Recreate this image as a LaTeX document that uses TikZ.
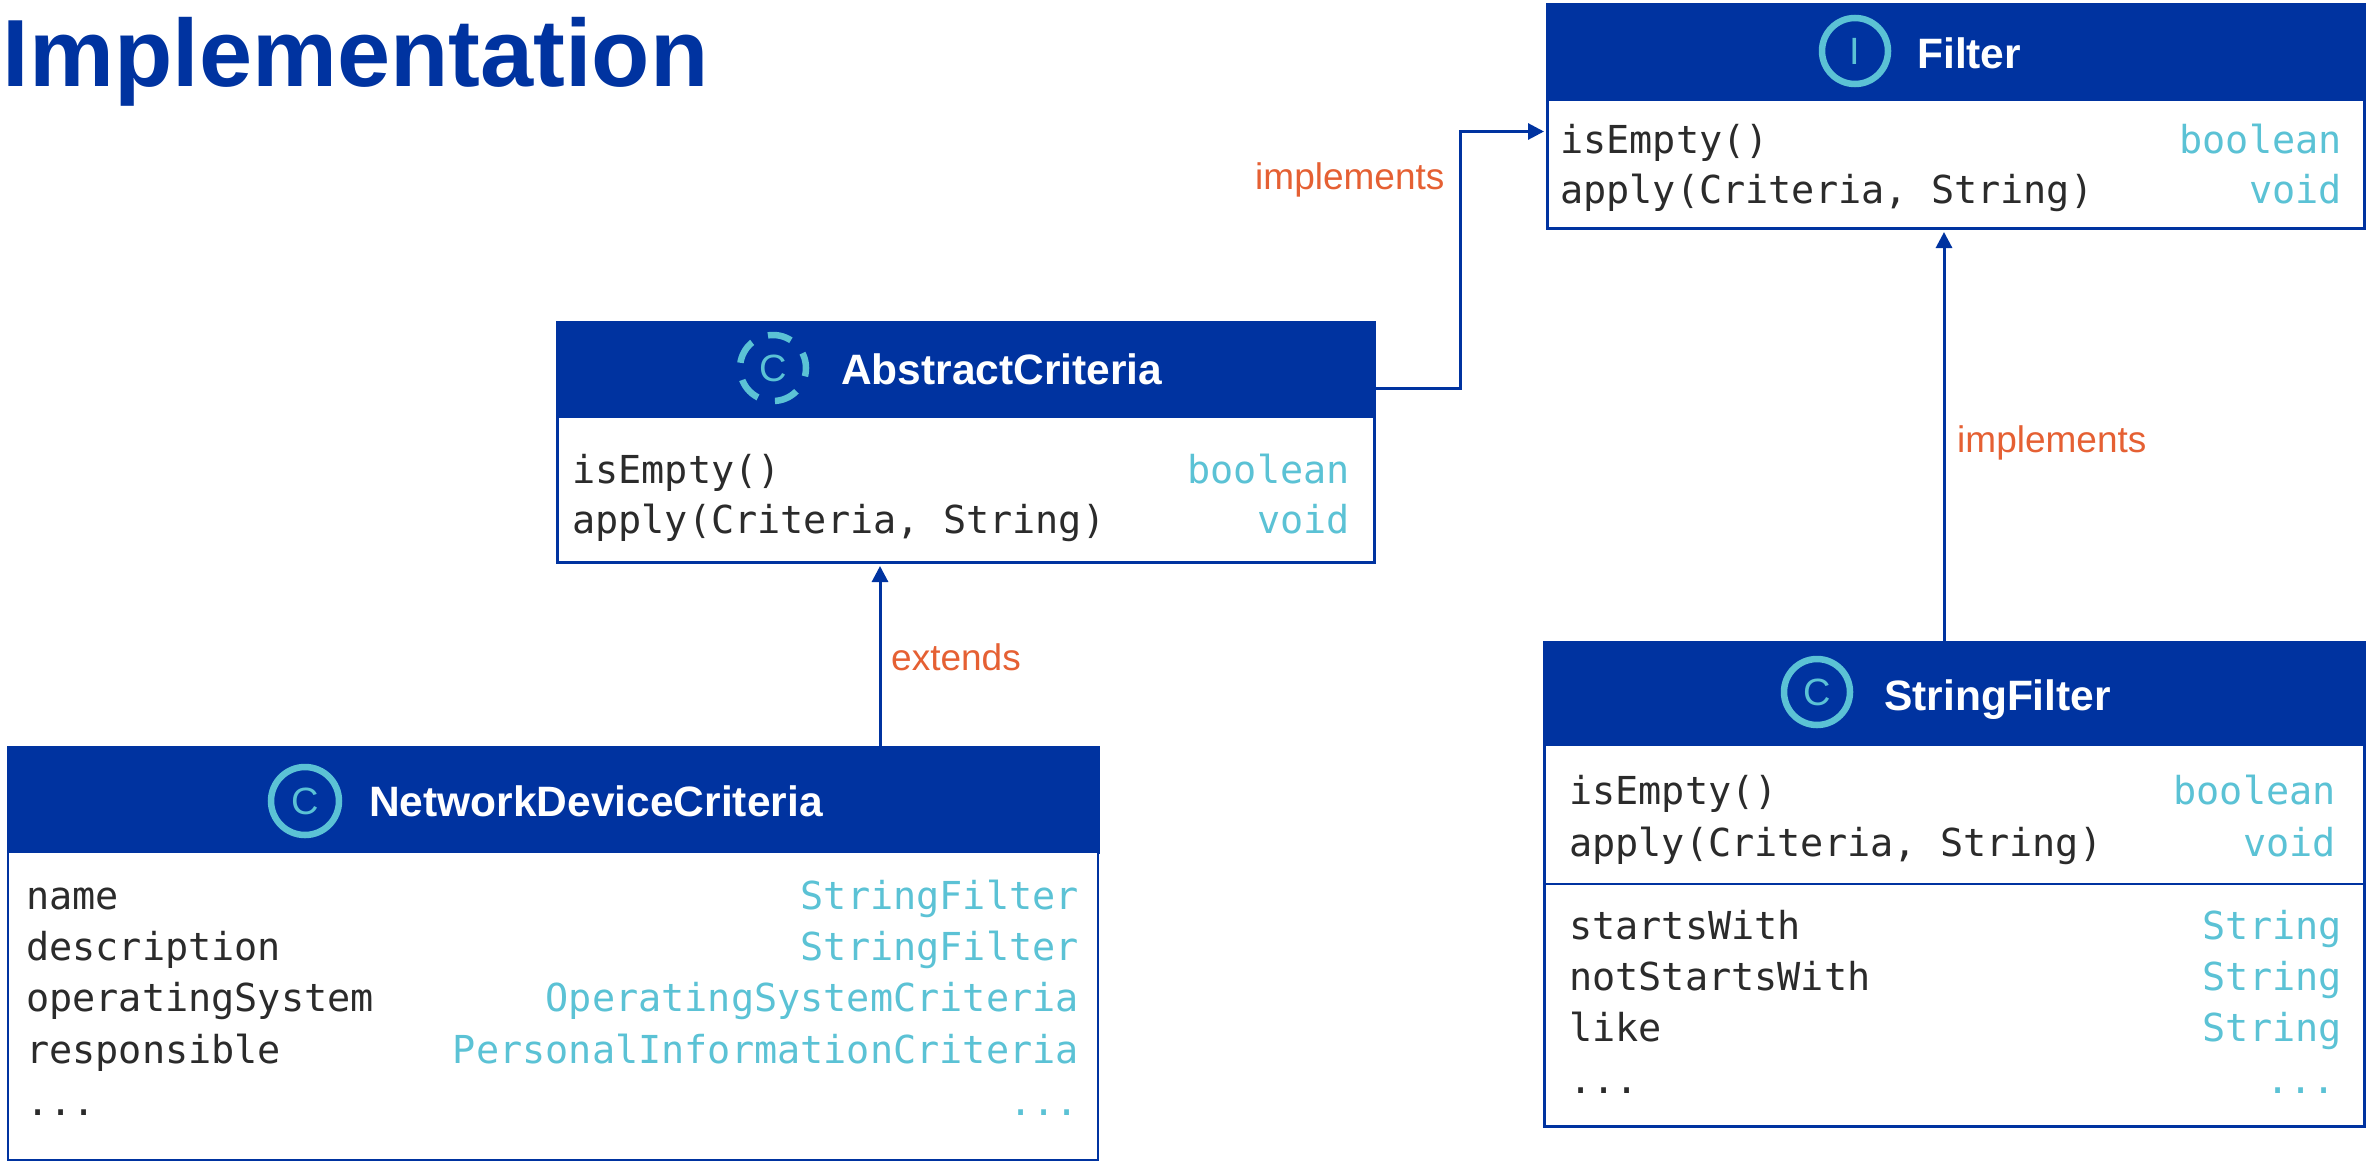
\documentclass[tikz,border=0pt]{standalone}
\usepackage{fontspec}
\setmainfont{Liberation Sans}
\newfontfamily\codefont{DejaVu Sans Mono}
\usetikzlibrary{arrows.meta,positioning}
\definecolor{navy}{HTML}{0033A0}
\definecolor{teal}{HTML}{5BC2D5}
\definecolor{ink}{HTML}{2B2B2B}
\definecolor{rust}{HTML}{E56033}
\tikzset{
	classhead/.style={draw=navy, fill=navy, line width=1pt, inner sep=0pt, outer sep=0pt, anchor=north west},
	classbody/.style={draw=navy, fill=white, line width=3pt, inner sep=0pt, outer sep=0pt, below=-1pt of #1},
	classtitle/.style={anchor=base west, inner sep=0pt, text=white, font=\fontsize{42.5}{48}\selectfont\bfseries},
	classicon/.style={circle, draw=teal, line width=6.5pt, minimum size=66pt, inner sep=0pt, text=teal, font=\fontsize{38}{42}\selectfont},
	member/.style={anchor=base west, inner sep=0pt, xshift=-1pt, yshift=-1pt, text=ink, font=\fontsize{38.5}{48}\codefont},
	membertype/.style={anchor=base east, inner sep=0pt, yshift=-1pt, text=teal, font=\fontsize{38.5}{48}\codefont},
	relation/.style={draw=navy, line width=3pt, -{Triangle[length=16pt,width=16pt]}},
	relationlabel/.style={anchor=base west, inner sep=0pt, text=rust, font=\fontsize{37}{44}\selectfont},
}
\begin{document}
\begin{tikzpicture}[x=1pt, y=1pt]
	%%%%% START %%%%%
	\useasboundingbox (0, 0) rectangle (2366, -1162);

	\node[anchor=base west, inner sep=0pt, text=navy, font=\fontsize{95.5}{110}\selectfont\bfseries] (pageTitle) at (2.5, -86) {Implementation};

	% Filter
	\node[classhead, minimum width=819pt, minimum height=97pt] (filterHead) at (1546, -3) {};
	\node[classbody=filterHead, minimum width=817pt, minimum height=129pt] (filterBody) {};
	\node[classicon] (filterIcon) at (1855, -51) {I};
	\node[classtitle] (filterTitle) at (1917, -68) {Filter};
	\node[member] (filterRowA) at (1561, -152) {isEmpty()};
	\node[member] (filterRowB) at (1561, -202) {apply(Criteria, String)};
	\node[membertype] (filterTypeA) at (2342, -152) {boolean};
	\node[membertype] (filterTypeB) at (2342, -202) {void};

	% AbstractCriteria
	\node[classhead, minimum width=819pt, minimum height=96pt] (abstractHead) at (556, -321) {};
	\node[classbody=abstractHead, minimum width=817pt, minimum height=146pt] (abstractBody) {};
	\node[classicon, dash pattern=on 24pt off 17.5pt, dash phase=8.6pt] (abstractIcon) at (773, -368) {C};
	\node[classtitle] (abstractTitle) at (841, -384) {AbstractCriteria};
	\node[member] (abstractRowA) at (573, -482) {isEmpty()};
	\node[member] (abstractRowB) at (573, -532) {apply(Criteria, String)};
	\node[membertype] (abstractTypeA) at (1350, -482) {boolean};
	\node[membertype] (abstractTypeB) at (1350, -532) {void};

	% NetworkDeviceCriteria
	\node[classhead, minimum width=1092pt, minimum height=107pt] (networkHead) at (7, -746) {};
	\node[classbody=networkHead, minimum width=1090pt, minimum height=308pt, line width=2pt] (networkBody) {};
	\node[classicon, minimum size=68pt] (networkIcon) at (305, -801) {C};
	\node[classtitle] (networkTitle) at (369, -816) {NetworkDeviceCriteria};
	\node[member] (networkRowA) at (27, -908) {name};
	\node[member] (networkRowB) at (27, -959) {description};
	\node[member] (networkRowC) at (27, -1010) {operatingSystem};
	\node[member] (networkRowD) at (27, -1062) {responsible};
	\node[member] (networkRowE) at (27, -1114) {...};
	\node[membertype] (networkTypeA) at (1079, -908) {StringFilter};
	\node[membertype] (networkTypeB) at (1079, -959) {StringFilter};
	\node[membertype] (networkTypeC) at (1079, -1010) {OperatingSystemCriteria};
	\node[membertype] (networkTypeD) at (1079, -1062) {PersonalInformationCriteria};
	\node[membertype] (networkTypeE) at (1079, -1114) {...};

	% StringFilter
	\node[classhead, minimum width=822pt, minimum height=104pt] (stringHead) at (1543, -641) {};
	\node[classbody=stringHead, minimum width=820pt, minimum height=382pt] (stringBody) {};
	\draw[draw=navy, line width=2pt] (stringBody.west |- 0, -884) -- (stringBody.east |- 0, -884);
	\node[classicon] (stringIcon) at (1817, -692) {C};
	\node[classtitle] (stringTitle) at (1884, -710) {StringFilter};
	\node[member] (stringRowA) at (1570, -803) {isEmpty()};
	\node[member] (stringRowB) at (1570, -855) {apply(Criteria, String)};
	\node[member] (stringRowC) at (1570, -938) {startsWith};
	\node[member] (stringRowD) at (1570, -989) {notStartsWith};
	\node[member] (stringRowE) at (1570, -1040) {like};
	\node[member] (stringRowF) at (1570, -1092) {...};
	\node[membertype] (stringTypeA) at (2336, -803) {boolean};
	\node[membertype] (stringTypeB) at (2336, -855) {void};
	\node[membertype] (stringTypeC) at (2342, -938) {String};
	\node[membertype] (stringTypeD) at (2342, -989) {String};
	\node[membertype] (stringTypeE) at (2342, -1040) {String};
	\node[membertype] (stringTypeF) at (2336, -1092) {...};

	% relations
	\draw[relation, shorten >=3pt] ([yshift=-19pt]abstractHead.east) -- ++(85, 0) |- ([yshift=32pt]filterBody.west);
	\draw[relation, shorten >=4pt] ([xshift=-10pt]stringHead.north) -- ([xshift=-10pt]stringHead.north |- filterBody.south);
	\draw[relation, shorten >=4pt] ([xshift=327pt]networkHead.north) -- ([xshift=327pt]networkHead.north |- abstractBody.south);

	\node[relationlabel] (implementsLeft) at (1255, -189) {implements};
	\node[relationlabel] (implementsRight) at (1957, -452) {implements};
	\node[relationlabel] (extendsLabel) at (891, -670) {extends};
	%%%%% END %%%%%
\end{tikzpicture}
\end{document}
